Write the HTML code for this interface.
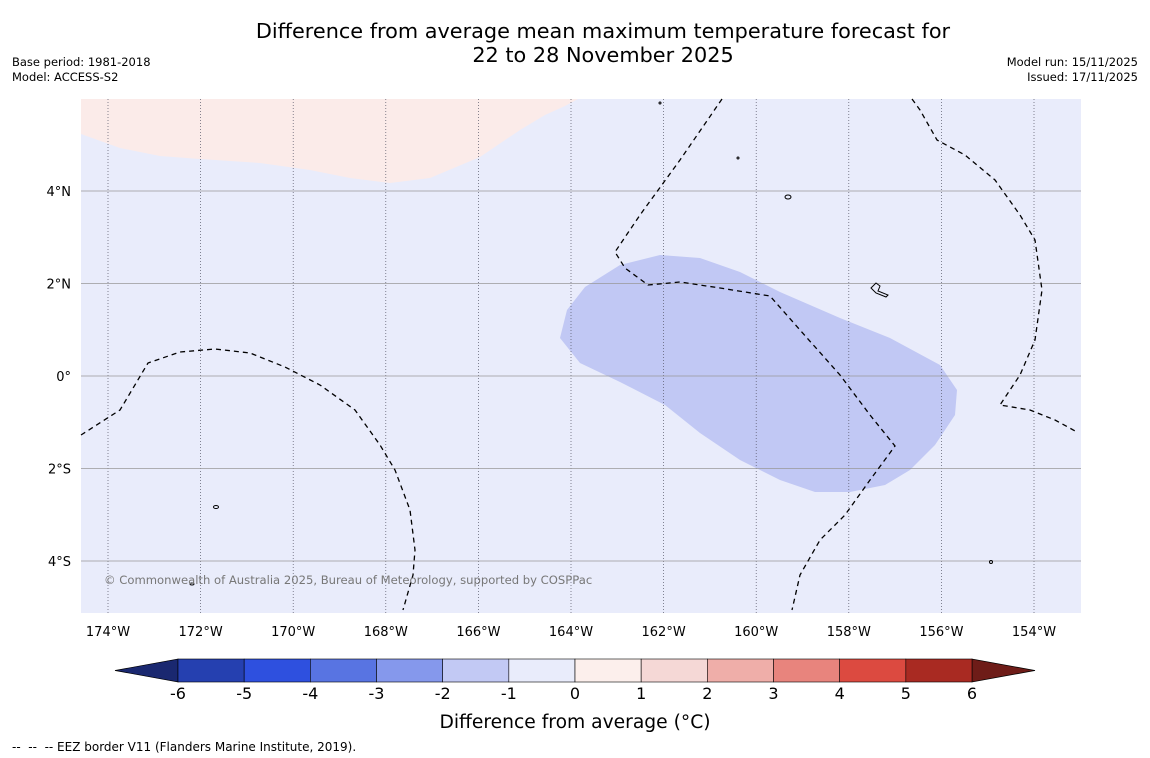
<!DOCTYPE html>
<html><head><meta charset="utf-8"><style>
body{margin:0;background:#fff;font-family:"DejaVu Sans","Liberation Sans",sans-serif;}
svg{display:block}
</style></head><body>
<svg id="chart" width="1150" height="758" viewBox="0 0 1150 758" xmlns="http://www.w3.org/2000/svg">
<rect width="1150" height="758" fill="#fff"/>
<text x="603" y="38" font-size="20.8" text-anchor="middle" fill="#000">Difference from average mean maximum temperature forecast for</text>
<text x="603" y="62" font-size="20.8" text-anchor="middle" fill="#000">22 to 28 November 2025</text>
<text x="12" y="66" font-size="11.5">Base period: 1981-2018</text>
<text x="12" y="81" font-size="11.5">Model: ACCESS-S2</text>
<text x="1138" y="66" font-size="11.5" text-anchor="end">Model run: 15/11/2025</text>
<text x="1138" y="81" font-size="11.5" text-anchor="end">Issued: 17/11/2025</text>
<g id="map">
<rect x="81" y="99" width="1000" height="514" fill="#e9ecfb"/>
<polygon fill="#fbebe9" points="81,99 578,99 565,106 545,115 520,130 480,157 430,178 390,183 350,178 310,170 260,163 200,159 160,156 120,148 81,134"/>
<polygon fill="#c1c8f4" points="560,338 567,310 585,287 620,265 660,255 700,258 740,272 780,292 840,318 890,338 940,365 957,390 955,415 935,445 910,470 885,485 850,492 815,492 780,480 740,460 700,433 665,405 620,382 580,363"/>
<g id="grid"></g>
<g fill="none" stroke="#000" stroke-width="1.3" stroke-dasharray="5,4">
<polyline points="722,99 680,160 640,215 615,252 625,268 648,285 680,282 720,288 770,296 800,330 840,375 870,415 895,446 870,480 845,515 820,540 800,575 792,610"/>
<polyline points="912,99 920,110 937,140 965,155 995,180 1020,215 1035,240 1042,290 1035,340 1020,375 1000,405 1030,410 1055,420 1077,432"/>
<polyline points="81,435 120,410 148,363 180,352 215,349 250,353 285,367 320,385 355,410 380,445 395,470 410,510 415,550 413,575 403,610"/>
</g>
<g fill="none" stroke="#000" stroke-width="1">
<ellipse cx="788" cy="197" rx="3" ry="2"/>
<path d="M871,288 l5,-5 l4,3 l-2,5 l10,4 l-2,2 l-10,-4 z"/>
<ellipse cx="216" cy="507" rx="2.5" ry="1.5"/>
<ellipse cx="192" cy="584" rx="2" ry="1"/>
<circle cx="660" cy="103" r="1"/>
<circle cx="738" cy="158" r="1"/>
<circle cx="991" cy="562" r="1.5"/>
</g>
<text x="104" y="584" font-size="11.6" fill="#777">© Commonwealth of Australia 2025, Bureau of Meteorology, supported by COSPPac</text>
</g>
<g id="axes"></g>
<g id="colorbar"></g>
<text x="575" y="728" font-size="18.7" text-anchor="middle">Difference from average (°C)</text>
<text x="12" y="751" font-size="12" xml:space="preserve">--  --  -- EEZ border V11 (Flanders Marine Institute, 2019).</text>
</svg>
<script>
const lonTicks=[-174,-172,-170,-168,-166,-164,-162,-160,-158,-156,-154];
const latTicks=[4,2,0,-2,-4];
const cbLevels=[-6,-5,-4,-3,-2,-1,0,1,2,3,4,5,6];
const cbColors=["#2540b0","#2e50df","#5874e2","#8598ec","#c2c9f4","#e9ecfb","#fcefec","#f5d8d6","#efaea9","#e8847d","#dc4a40","#a92a22"];
const NS="http://www.w3.org/2000/svg";
const xLon=l=>108+(l+174)*(1034-108)/20;
const yLat=l=>376-l*(185/4);
const xCb=v=>178+(v+6)*(972-178)/12;
function mk(t,a,p){const e=document.createElementNS(NS,t);for(const k in a)e.setAttribute(k,a[k]);p.appendChild(e);return e;}
const grid=document.getElementById('grid'),axes=document.getElementById('axes');
lonTicks.forEach(l=>{
 const ln=mk('line',{x1:xLon(l),x2:xLon(l),y1:99,y2:613,stroke:'#556',"stroke-width":0.7,"stroke-dasharray":"1,2"},grid);
 
 
 const t=mk('text',{x:xLon(l),y:636,"font-size":13,"text-anchor":"middle"},axes);
 t.textContent=Math.abs(l)+'°W';
 
 
});
latTicks.forEach(l=>{
 const ln=mk('line',{x1:81,x2:1081,y1:yLat(l),y2:yLat(l),stroke:'#999',"stroke-width":0.8},grid);
 
 
 const t=mk('text',{x:71,y:yLat(l)+5,"font-size":13,"text-anchor":"end"},axes);
 t.textContent=l===0?'0°':Math.abs(l)+'°'+(l>0?'N':'S');
 
 
});
const cb=document.getElementById('colorbar');
const lt=mk('polygon',{points:`115,670.5 ${xCb(-6)},659 ${xCb(-6)},682`,fill:'#1a2870',stroke:'#000',"stroke-width":0.7},cb);


const rt=mk('polygon',{points:`1035,670.5 ${xCb(6)},659 ${xCb(6)},682`,fill:'#6e1c18',stroke:'#000',"stroke-width":0.7},cb);


cbColors.forEach((c,i)=>{
 const r=mk('rect',{x:xCb(cbLevels[i]),y:659,width:xCb(cbLevels[i+1])-xCb(cbLevels[i]),height:23,fill:c,stroke:'#000',"stroke-width":0.6},cb);
 
 
});
cbLevels.forEach(v=>{
 const t=mk('text',{x:xCb(v),y:699,"font-size":16,"text-anchor":"middle"},cb);
 t.textContent=v;
 
 
});
</script>
</body></html>
